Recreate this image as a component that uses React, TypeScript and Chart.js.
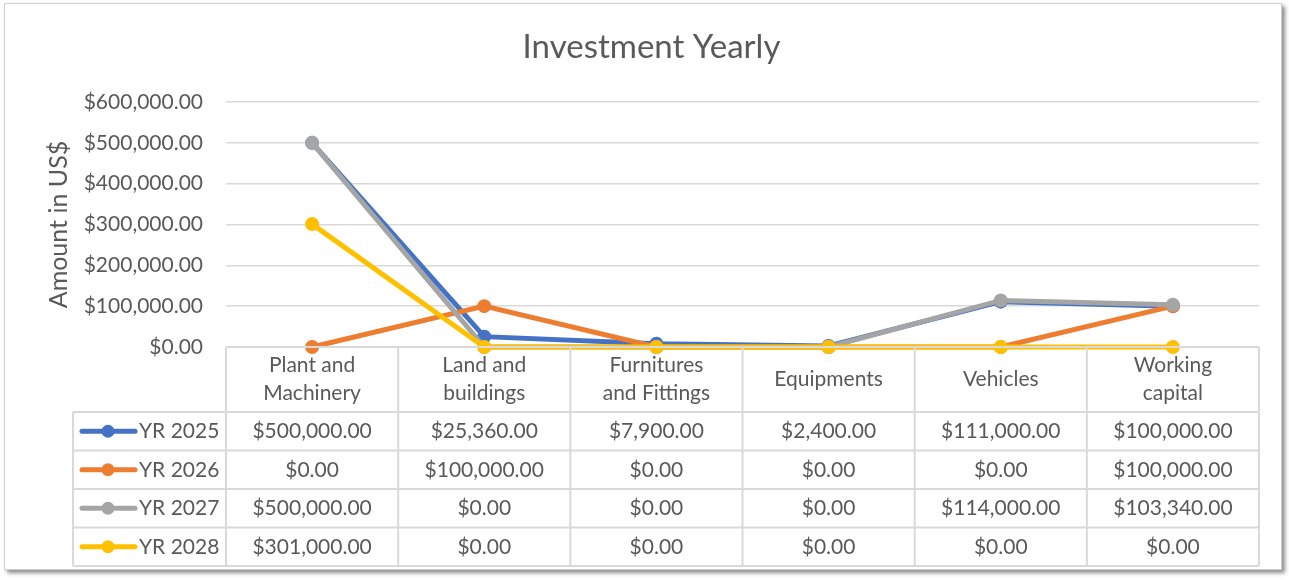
import React, { useEffect, useRef } from "react";
import { Chart, registerables } from "chart.js";

Chart.register(...registerables);

// ---- data ----
const categories: string[][] = [
  ["Plant and", "Machinery"],
  ["Land and", "buildings"],
  ["Furnitures", "and Fittings"],
  ["Equipments"],
  ["Vehicles"],
  ["Working", "capital"],
];
const seriesNames = ["YR 2025", "YR 2026", "YR 2027", "YR 2028"];
const yr2025 = [500000, 25360, 7900, 2400, 111000, 100000];
const yr2026 = [0, 100000, 0, 0, 0, 100000];
const yr2027 = [500000, 0, 0, 0, 114000, 103340];
const yr2028 = [301000, 0, 0, 0, 0, 0];
const seriesColors = ["#4472C4", "#ED7D31", "#A5A5A5", "#FFC000"];
const yMin = 0;
const yMax = 600000;
const yStep = 100000;
const chartTitle = "Investment Yearly";
const yAxisTitle = "Amount in US$";

const FONT = "Lato, 'Open Sans', sans-serif";
const TEXT = "#595959";
const GRID = "#d9d9d9";

const money = (v: number) =>
  "$" + v.toLocaleString("en-US", { minimumFractionDigits: 2, maximumFractionDigits: 2 });

const allSeries = [yr2025, yr2026, yr2027, yr2028];

const tablePlugin = {
  id: "dataTable",
  afterDraw(chart: any) {
    const { ctx, chartArea } = chart;
    const x = chart.scales.x;
    const left = chartArea.left;
    const right = chartArea.right;
    const top = chartArea.bottom;
    const headerH = 65;
    const rowH = 38.5;
    const legendLeft = 73;
    const n = categories.length;
    const colW = (right - left) / n;
    const bottom = top + headerH + rowH * allSeries.length;

    ctx.save();
    ctx.strokeStyle = GRID;
    ctx.lineWidth = 2;
    ctx.beginPath();
    ctx.moveTo(left, top);
    ctx.lineTo(right, top);
    for (let r = 0; r <= allSeries.length; r++) {
      const yy = top + headerH + rowH * r;
      ctx.moveTo(legendLeft, yy);
      ctx.lineTo(right, yy);
    }
    for (let i = 0; i <= n; i++) {
      const xx = left + colW * i;
      ctx.moveTo(xx, top);
      ctx.lineTo(xx, bottom);
    }
    ctx.moveTo(legendLeft, top + headerH);
    ctx.lineTo(legendLeft, bottom);
    ctx.stroke();

    ctx.fillStyle = TEXT;
    ctx.font = `21px ${FONT}`;
    ctx.textAlign = "center";
    ctx.textBaseline = "middle";
    categories.forEach((lines, i) => {
      const cx = x.getPixelForValue(i);
      if (lines.length === 1) {
        ctx.fillText(lines[0], cx, top + headerH / 2);
      } else {
        lines.forEach((ln, k) => ctx.fillText(ln, cx, top + 18 + 28 * k));
      }
    });

    allSeries.forEach((vals, r) => {
      const cy = top + headerH + rowH * (r + 0.5);
      vals.forEach((v, i) => {
        ctx.fillStyle = TEXT;
        ctx.textAlign = "center";
        ctx.fillText(money(v), x.getPixelForValue(i), cy);
      });
      // legend key
      ctx.strokeStyle = seriesColors[r];
      ctx.lineWidth = 5;
      ctx.lineCap = "round";
      ctx.beginPath();
      ctx.moveTo(legendLeft + 9, cy);
      ctx.lineTo(legendLeft + 62, cy);
      ctx.stroke();
      ctx.fillStyle = seriesColors[r];
      ctx.beginPath();
      ctx.arc(legendLeft + 35, cy, 6.5, 0, Math.PI * 2);
      ctx.fill();
      ctx.fillStyle = TEXT;
      ctx.textAlign = "left";
      ctx.fillText(seriesNames[r], legendLeft + 66, cy);
    });
    ctx.restore();
  },
};

export default function App() {
  const ref = useRef<HTMLCanvasElement | null>(null);
  useEffect(() => {
    if (!ref.current) return;
    const chart = new Chart(ref.current, {
      type: "line",
      data: {
        labels: categories.map((c) => c.join(" ")),
        datasets: allSeries.map((vals, i) => ({
          label: seriesNames[i],
          data: vals,
          borderColor: seriesColors[i],
          backgroundColor: seriesColors[i],
          pointBackgroundColor: seriesColors[i],
          pointBorderWidth: 0,
          pointRadius: 7,
          borderWidth: 5,
          tension: 0,
          clip: 20,
          order: allSeries.length - 1 - i,
        })),
      },
      options: {
        responsive: false,
        animation: false,
        layout: { padding: { left: 44, right: 30, top: 0, bottom: 233 } },
        plugins: {
          legend: { display: false },
          tooltip: { enabled: false },
          title: {
            display: true,
            text: chartTitle,
            color: TEXT,
            font: { family: FONT, size: 33, weight: "normal" },
            padding: { top: 28, bottom: 34.4 },
          },
        },
        scales: {
          x: { display: false, offset: true },
          y: {
            min: yMin,
            max: yMax,
            border: { display: false },
            grid: { color: GRID, lineWidth: 1.5, drawTicks: false },
            ticks: {
              stepSize: yStep,
              padding: 23,
              color: TEXT,
              font: { family: FONT, size: 21 },
              callback: (v: any) => money(Number(v)),
            },
            title: {
              display: true,
              text: yAxisTitle,
              color: TEXT,
              font: { family: FONT, size: 25 },
              padding: { top: 0, bottom: 0 },
            },
            afterFit: (scale: any) => {
              scale.width = 182;
            },
          },
        },
      },
      plugins: [tablePlugin],
    });
    return () => chart.destroy();
  }, []);

  return (
    <div style={{ position: "absolute", left: 0, top: 0, width: 1289, height: 580, background: "#fff" }}>
      <div
        style={{
          position: "absolute",
          left: 4,
          top: 3,
          width: 1276,
          height: 565,
          border: "1px solid #cfcfcf",
          boxShadow: "3px 3px 4px rgba(0,0,0,0.45)",
          background: "#fff",
        }}
      />
      <canvas ref={ref} width={1289} height={580} style={{ position: "absolute", left: 0, top: 0 }} />
    </div>
  );
}
